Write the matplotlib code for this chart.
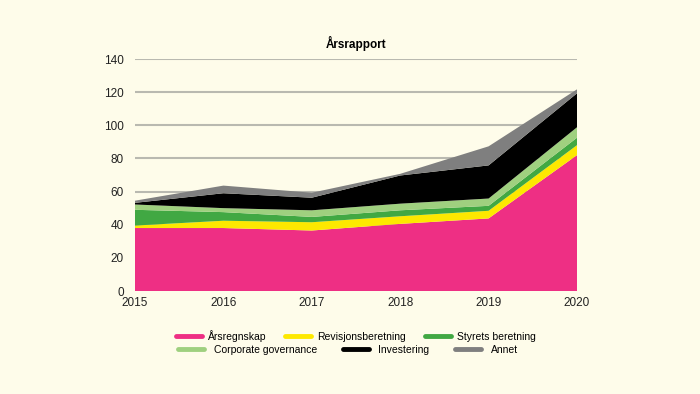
import numpy as np
import matplotlib
matplotlib.use("Agg")
import matplotlib.pyplot as plt
from matplotlib.lines import Line2D

years = [2015, 2016, 2017, 2018, 2019, 2020]

# stacked layer values
arsregnskap = [38.0, 38.0, 36.5, 40.5, 43.8, 82.0]
revisjon = [1.5, 4.4, 5.0, 4.6, 4.6, 6.0]
styrets = [9.5, 5.2, 3.2, 3.6, 3.0, 4.5]
corporate = [3.2, 2.4, 4.0, 4.0, 4.4, 6.3]
investering = [1.0, 9.0, 7.6, 17.0, 20.0, 20.5]
annet = [1.3, 4.6, 3.0, 1.0, 11.5, 2.4]

labels = ["Årsregnskap", "Revisjonsberetning", "Styrets beretning",
          "Corporate governance", "Investering", "Annet"]
colors = ["#ee2f84", "#fde800", "#41a843", "#9fd07f", "#000000", "#7f7f7f"]
yticks = [0, 20, 40, 60, 80, 100, 120, 140]

bg = "#fefcea"
plt.rcParams["font.family"] = ["Liberation Sans", "DejaVu Sans"]

fig = plt.figure(figsize=(7, 3.94), dpi=100, facecolor=bg)
ax = fig.add_axes([135 / 700, 1 - 291 / 394, 442 / 700, 232 / 394])
ax.set_facecolor(bg)

ax.stackplot(years, arsregnskap, revisjon, styrets, corporate, investering, annet,
             colors=colors, linewidth=0, zorder=2)

ax.set_xlim(2015, 2020)
ax.set_ylim(0, 140)
ax.set_yticks(yticks)
ax.set_xticks(years)
ax.grid(axis="y", color="#b9b9b0", linewidth=1.5, zorder=0)
ax.set_axisbelow(True)
for s in ax.spines.values():
    s.set_visible(False)
ax.tick_params(length=0, labelsize=8.5, colors="#222222")
ax.tick_params(axis="y", pad=8)
ax.tick_params(axis="x", pad=4)

ax.set_title("Årsrapport", fontsize=8.5, fontweight="bold", pad=8)

def handles(idx):
    return [Line2D([0], [0], color=colors[i], linewidth=3.5, solid_capstyle="round")
            for i in idx]

fig.legend(handles([0, 1, 2]), labels[0:3], ncol=3, loc="center",
           bbox_to_anchor=(356 / 700, 1 - 336 / 394), frameon=False,
           fontsize=7.5, handlelength=2.5, columnspacing=1.8, handletextpad=0.6)
fig.legend(handles([3, 4, 5]), labels[3:6], ncol=3, loc="center",
           bbox_to_anchor=(348 / 700, 1 - 350 / 394), frameon=False,
           fontsize=7.5, handlelength=2.5, columnspacing=2.5, handletextpad=0.9)

fig.savefig("out.png", dpi=100, facecolor=bg)
